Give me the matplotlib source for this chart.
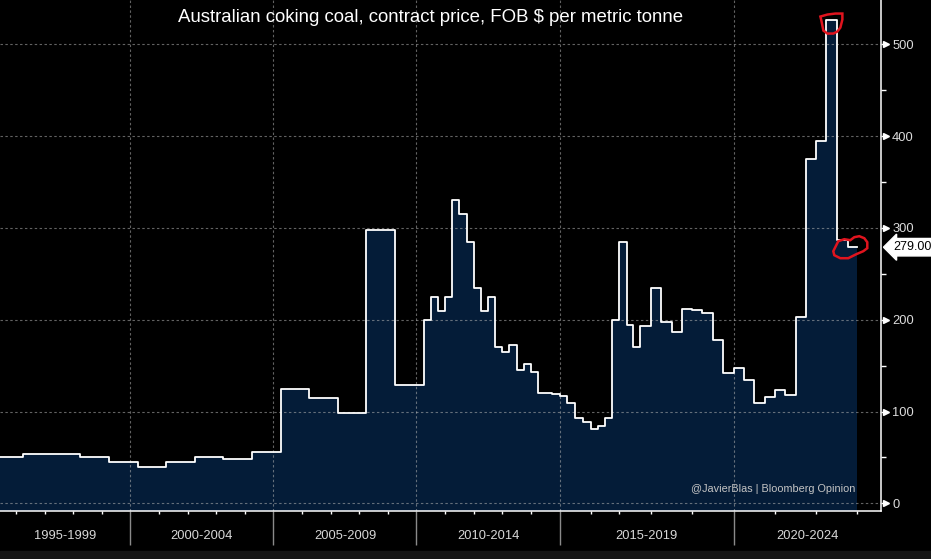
import numpy as np
import matplotlib
matplotlib.use("Agg")
import matplotlib.pyplot as plt
import matplotlib.transforms as mtransforms
from matplotlib.ticker import FixedLocator, NullFormatter
from matplotlib.patches import Polygon, Rectangle

plt.rcParams['font.family'] = ['Liberation Sans', 'DejaVu Sans']

# ---------------- data ----------------
title = "Australian coking coal, contract price, FOB $ per metric tonne"
credit = "@JavierBlas | Bloomberg Opinion"

# start of each contract period (fractional year) and price ($/t)
step_start = [1995.25, 1996.25, 1998.25, 1999.25, 2000.25, 2001.25, 2002.25,
              2003.25, 2004.25, 2005.25, 2006.25, 2007.25, 2008.25, 2009.25,
              2010.25, 2010.5, 2010.75, 2011.0, 2011.25, 2011.5, 2011.75,
              2012.0, 2012.25, 2012.5, 2012.75, 2013.0, 2013.25, 2013.5,
              2013.75, 2014.0, 2014.25, 2014.5, 2014.75, 2015.0, 2015.25,
              2015.5, 2015.75, 2016.0, 2016.25, 2016.5, 2016.75, 2017.0,
              2017.25, 2017.44, 2017.65, 2018.0, 2018.25, 2018.5, 2018.75,
              2019.0, 2019.25, 2019.5, 2019.75, 2020.0, 2020.25, 2020.5,
              2020.75, 2021.0, 2021.25, 2021.5, 2021.75, 2022.0, 2022.25,
              2022.5, 2022.77]
price = [50, 54, 50, 44.5, 40, 45.5, 50,
         48, 55.5, 125, 115, 98, 298, 129,
         200, 225, 209, 225, 330, 315, 285,
         235, 210, 225, 170, 165, 172, 145,
         152, 143, 120, 120, 119, 117, 109.5,
         93, 89, 81, 84, 92.5, 200, 285,
         194, 170, 193, 235, 197, 187, 212,
         210.5, 207.5, 178, 141.5, 147.5, 134, 109,
         116, 123.5, 118.5, 203, 375, 395, 527,
         287, 279]
series_end = 2023.0

band_edges = [1995, 2000, 2005, 2010, 2015, 2020, 2025]
band_labels = ["1995-1999", "2000-2004", "2005-2009", "2010-2014",
               "2015-2019", "2020-2024"]
year_ticks = list(range(1996, 2024))
y_ticks = [0, 100, 200, 300, 400, 500]
y_minor = [50, 150, 250, 350, 450]
last_label = "279.00"

# ---------------- layout ----------------
# the terminal's time axis is not linear: year -> horizontal position
axis_years = [1990, 1995, 2015, 2016, 2017, 2018, 2019, 2020, 2021, 2022, 2023, 2030]
axis_pos = [-155.5, -12.5, 559.5, 591, 619.4, 651, 692, 733.5, 775, 816, 857, 1144]


def fwd(x):
    return np.interp(x, axis_years, axis_pos)


def inv(p):
    return np.interp(p, axis_pos, axis_years)


W, H = 931, 559
navy = '#041c38'
fig = plt.figure(figsize=(W / 100, H / 100), dpi=100, facecolor='black')
ax_left, ax_w = 0.0, 881 / W
ax_bot, ax_h = (H - 510.7) / H, 510.7 / H
ax = fig.add_axes([ax_left, ax_bot, ax_w, ax_h])
ax.set_facecolor('black')
ax.set_xscale('function', functions=(fwd, inv))
x0, x1 = float(inv(0.0)), float(inv(881.0))
ax.set_xlim(x0, x1)
ylo, yhi = -8.06, 548.3
ax.set_ylim(ylo, yhi)

xs = step_start + [series_end]
ys = price + [price[-1]]
ax.fill_between(xs, ys, ylo, step='post', color=navy, lw=0, zorder=1)
ax.plot(xs, ys, drawstyle='steps-post', color='white', lw=1.3, zorder=4)

# grid
grid_kw = dict(color='#b4b4b4', alpha=0.55, lw=0.8, ls=(0, (2.2, 2.2)), zorder=2)
for yv in y_ticks:
    ax.axhline(yv, **grid_kw)
for xv in band_edges[1:-1]:
    ax.axvline(xv, **grid_kw)

# spines
for s in ['top', 'left']:
    ax.spines[s].set_visible(False)
for s in ['bottom', 'right']:
    ax.spines[s].set_color('white')
    ax.spines[s].set_linewidth(1.1)
    ax.spines[s].set_zorder(5)

# x ticks
ax.xaxis.set_major_locator(FixedLocator(band_edges[1:-1]))
ax.xaxis.set_major_formatter(NullFormatter())
ax.xaxis.set_minor_locator(FixedLocator([y for y in year_ticks if y not in band_edges]))
ax.xaxis.set_minor_formatter(NullFormatter())
ax.tick_params(axis='x', which='major', length=24.5, width=1, color='#8a8a8a', direction='out')
ax.tick_params(axis='x', which='minor', length=2.4, width=1, color='white', direction='out')

for lo, hi, lab in zip(band_edges[:-1], band_edges[1:], band_labels):
    plo = max(float(fwd(lo)), 0.0)
    phi = min(float(fwd(hi)), 881.0)
    xc = float(inv((plo + phi) / 2))
    ax.text(xc, -0.0495, lab, transform=mtransforms.blended_transform_factory(ax.transData, ax.transAxes),
            ha='center', va='center', color='#d8d8d8', fontsize=9.3)

# y axis on the right
ax.yaxis.tick_right()
ax.yaxis.set_major_locator(FixedLocator(y_ticks))
ax.yaxis.set_minor_locator(FixedLocator(y_minor))
ax.tick_params(axis='y', which='major', length=4, width=1, color='white', direction='out',
               pad=4, labelsize=9.3, labelcolor='#dcdcdc')
ax.tick_params(axis='y', which='minor', length=3.5, width=1, color='white', direction='out')
ytrans = mtransforms.blended_transform_factory(ax.transAxes, ax.transData)
ax.plot([1.0 + 5.5 / 881] * len(y_ticks), y_ticks, ls='none', marker='>', ms=5,
        color='white', mec='white', transform=ytrans, clip_on=False, zorder=6)

# title and credit
ax.text(0.489, 0.9648, title, transform=ax.transAxes, ha='center', va='center',
        color='white', fontsize=13.4, zorder=6)
ax.text(0.9705, 0.0425, credit, transform=ax.transAxes, ha='right', va='center',
        color='#c4c4c4', fontsize=7.8, zorder=6)

# last value tag
ax.text(1.0 + 12 / 881, price[-1], last_label, transform=ytrans, ha='left', va='center',
        color='black', fontsize=9.0, zorder=7, clip_on=False,
        bbox=dict(boxstyle='larrow,pad=0.22', fc='white', ec='white'))

# hand-drawn red rings (pixel offsets around the points they mark)
fig.canvas.draw()
peak_i = int(np.argmax(price))
peak_xy = ax.transData.transform(((step_start[peak_i] + step_start[peak_i + 1]) / 2, price[peak_i]))
ring1 = [(-11, -3), (-4, -5), (4, -6), (11, -6), (11, 0), (9, 8), (6, 12), (2, 14),
         (-4, 14), (-8, 11), (-9, 6), (-10, 1)]
last_xy = ax.transData.transform(((step_start[-1] + series_end) / 2, price[-1]))
ring2 = [(-17, 0), (-14, -6), (-8, -8), (-2, -7), (2, -10), (7, -11), (12, -9), (15, -5),
         (15, 1), (11, 4), (4, 7), (-4, 11), (-12, 11), (-18, 8), (-19, 4)]
for ctr, pts in [(peak_xy, ring1), (last_xy, ring2)]:
    verts = [(ctr[0] + dx, ctr[1] - dy) for dx, dy in pts]
    fig.patches.append(Polygon(verts, closed=True, fill=False, ec='#e0141e', lw=1.8,
                               transform=None, figure=fig, zorder=10))

# bottom strip of the terminal window
fig.patches.append(Rectangle((0, 0), 1, 8 / H, transform=fig.transFigure,
                             color='#161616', figure=fig, zorder=0))

fig.savefig('out.png', dpi=100, facecolor='black')
